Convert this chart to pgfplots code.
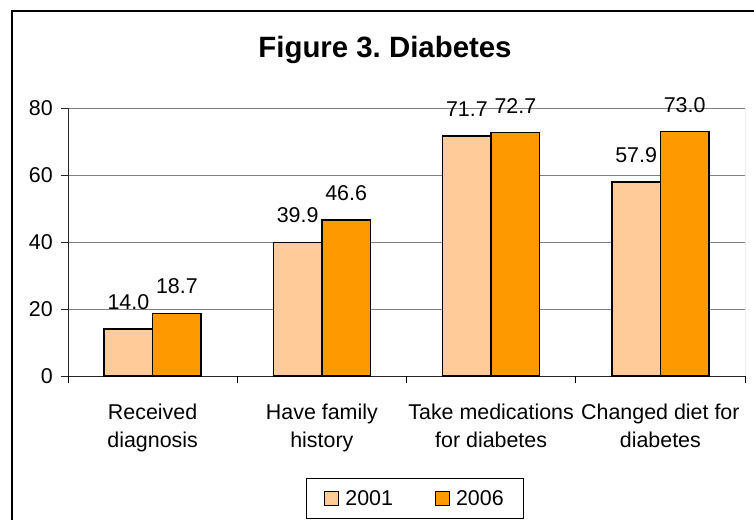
\documentclass[border=0pt]{standalone}
\usepackage{pgfplots}
\pgfplotsset{compat=1.18}
\usepackage{fontspec}
\setmainfont{Liberation Sans}
\definecolor{c2001}{HTML}{FFCC99}
\definecolor{c2006}{HTML}{FF9900}
\definecolor{gridgray}{HTML}{808080}
\begin{document}
\begin{tikzpicture}
\useasboundingbox (0,0) rectangle (754bp,-520bp);
\draw[line width=2bp] (12bp,-540bp) -- (12bp,-11bp) -- (780bp,-11bp);
\node[anchor=base, font=\fontsize{29.5}{34}\selectfont\bfseries] at (385bp,-57bp) {Figure 3.\ Diabetes};
\begin{axis}[
  at={(68bp,-376bp)}, anchor=south west,
  scale only axis, width=677bp, height=268bp,
  ybar=0pt, bar width=0.2865,
  xmin=-0.5, xmax=3.5, ymin=0, ymax=80,
  ytick={0,20,...,80},
  xtick={0,1,2,3},
  xticklabels={{Received\\diagnosis},{Have family\\history},{Take medications\\for diabetes},{Changed diet for\\diabetes}},
  x tick label style={align=center, font=\fontsize{21.5}{28}\selectfont, anchor=north, inner sep=0pt, yshift=-21bp},
  major x tick style={draw=none},
  extra x ticks={-0.5,0.5,1.5,2.5,3.5},
  extra x tick labels={},
  extra x tick style={major tick length=7bp, tick align=outside, major x tick style={draw=black, line width=0.8bp}},
  axis x line*=bottom, axis y line*=left,
  axis line style={-, black!85, line width=0.8bp},
  tick align=outside, major tick length=7bp,
  y tick style={black!85, line width=0.8bp},
  ymajorgrids, grid style={gridgray, line width=0.8bp},
  y tick label style={font=\fontsize{21.5}{24}\selectfont, anchor=east, inner sep=0pt, xshift=-8bp},
  /pgf/number format/assume math mode=true,
  nodes near coords,
  nodes near coords style={font=\fontsize{21.5}{24}\selectfont, anchor=south, inner sep=0pt, yshift=18.5bp,
    /pgf/number format/.cd, fixed, fixed zerofill, precision=1, assume math mode=true},
  legend style={at={(0.5126,-0.4571)}, anchor=center, legend columns=2, draw=black, line width=0.9bp,
    font=\fontsize{21.5}{24}\selectfont, nodes={inner sep=2bp}, inner xsep=18bp, inner ysep=10bp,
    /tikz/every odd column/.append style={column sep=4bp},
    /tikz/every even column/.append style={column sep=40bp}},
  legend image code/.code={\draw[#1, line width=1bp] (0bp,-7bp) rectangle (14bp,7bp);},
]
\addplot[fill=c2001, draw=black, line width=1.4bp] coordinates {(0,14.0) (1,39.9) (2,71.7) (3,57.9)};
\addplot[fill=c2006, draw=black, line width=1.4bp] coordinates {(0,18.7) (1,46.6) (2,72.7) (3,73.0)};
\legend{2001,2006}
\draw[gridgray, line width=0.8bp] (rel axis cs:1,0) -- (rel axis cs:1,1);
\end{axis}
\end{tikzpicture}
\end{document}
